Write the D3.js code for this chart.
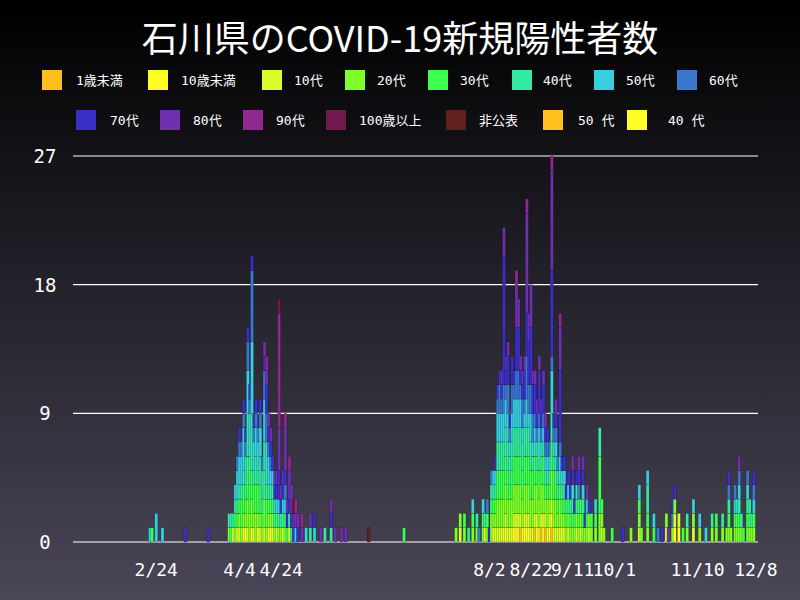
<!DOCTYPE html>
<html><head><meta charset="utf-8">
<script src="https://cdn.jsdelivr.net/npm/d3@7"></script>
<style>body{margin:0;background:#000}</style></head>
<body><svg id="c" width="800" height="600"></svg>
<script>
const categories=["1歳未満","10歳未満","10代","20代","30代","40代","50代","60代","70代","80代","90代","100歳以上","非公表"];
const colors=["#ffbf1f","#ffff26","#d9ff2a","#7fff2a","#3cff50","#33eaa0","#38cfe0","#3a78d0","#3a30c8","#6f30b0","#902890","#701a50","#602020"];
const legendExtra=["50 代","40 代"];
const legendExtraColors=["#ffc020","#ffff26"];
const yTicks=[0,9,18,27];
const xTickLabels=["2/24","4/4","4/24","8/2","8/22","9/11","10/1","11/10","12/8"];
const xTickDates=["2020-02-24","2020-04-04","2020-04-24","2020-08-02","2020-08-22","2020-09-11","2020-10-01","2020-11-10","2020-12-08"];
// daily counts by category (index order of categories)
const daily=[
["02-21",[0,0,0,0,0,0,1]],["02-22",[0,0,0,0,1]],["02-24",[0,0,0,0,0,0,2]],["02-27",[0,0,0,0,0,0,1]],
["03-09",[0,0,0,0,0,0,0,0,1]],["03-20",[0,0,0,0,0,0,0,0,1]],
["03-30",[0,0,0,1,0,1]],["03-31",[0,0,0,0,1,1]],["04-01",[0,0,1,0,0,1]],["04-02",[0,0,0,1,1,1,1]],
["04-03",[0,0,1,0,1,1,2,1]],["04-04",[0,0,1,1,1,1,2,1,1]],["04-05",[0,0,0,1,2,1,2,1]],
["04-06",[0,0,1,1,2,1,3,1,1]],["04-07",[0,1,0,1,1,1,2,1,1]],["04-08",[0,0,1,2,3,3,3,2,1]],
["04-09",[0,0,0,2,2,2,3,1,1]],["04-10",[0,1,0,2,2,4,5,5,1]],["04-11",[0,0,1,1,2,1,2,1,1]],
["04-12",[0,0,0,2,2,2,2,1,1]],["04-13",[0,1,0,1,2,1,2,1]],["04-14",[0,0,1,1,2,2,2,1,1]],
["04-15",[0,0,0,1,1,1,2,1]],["04-16",[0,0,1,2,2,2,3,2,1,1]],["04-17",[0,0,0,1,2,1,3,2,2,1,1]],
["04-18",[0,0,1,1,1,1,2,1,1,1]],["04-19",[0,1,0,1,1,1,1,1,1,1]],["04-20",[0,0,1,1,1,1,1,0,1]],
["04-21",[0,0,0,1,0,1,1,0,1,1]],["04-22",[0,0,1,0,1,0,1,0,1,1]],["04-23",[0,0,0,1,0,1,1,0,2,3,8,1]],
["04-24",[0,0,0,1,0,1,0,0,1,1]],["04-25",[0,0,1,0,1,0,1,0,1,1]],["04-26",[0,0,0,1,0,1,1,1,1,3,1]],
["04-27",[0,0,0,0,1,0,0,0,1,1]],["04-28",[0,0,1,0,0,1,0,0,1,2,1]],["04-29",[0,0,0,0,0,1,0,0,1,2]],
["04-30",[0,0,0,0,0,0,0,0,1,1,0,0,1]],["05-01",[0,0,0,0,0,0,1,0,0,1,1]],["05-02",[0,0,0,0,0,0,0,0,1,1]],
["05-04",[0,0,0,0,0,0,0,0,0,1,1]],["05-06",[0,0,0,0,0,0,1]],["05-08",[0,0,0,0,0,1,0,0,0,1]],
["05-10",[0,0,0,0,0,0,1,0,1]],["05-13",[0,0,0,0,0,0,0,0,0,1]],["05-15",[0,0,0,0,0,1]],
["05-18",[0,0,0,0,0,1,0,0,1,1]],["05-20",[0,0,0,0,0,0,0,0,0,1]],["05-23",[0,0,0,0,0,0,0,0,0,1]],
["05-25",[0,0,0,0,0,0,0,0,0,1]],["06-05",[0,0,0,0,0,0,0,0,0,0,0,0,1]],["06-22",[0,0,0,0,1]],
["07-17",[0,0,0,1]],["07-19",[0,0,1,1]],["07-21",[0,0,0,1,1]],["07-23",[0,0,0,0,0,1]],
["07-25",[0,0,0,1,1,0,1]],["07-27",[0,0,0,1,0,1]],["07-28",[0,0,0,0,0,0,0,1]],
["07-30",[0,0,0,1,1,0,1]],["07-31",[0,0,1,0,0,1]],
["08-01",[0,0,0,1,1,0,0,1]],["08-02",[0,0,0,0,0,0,0,0,1]],["08-03",[0,0,0,2,1,1,0,1]],
["08-04",[0,0,1,1,1,1,1]],["08-05",[0,0,1,1,1,1,1,0,1]],["08-06",[0,0,1,2,2,2,2,1,1]],
["08-07",[0,0,1,2,2,2,2,2,1]],["08-08",[0,0,1,2,2,2,2,1,1,1]],["08-09",[0,0,1,2,2,2,2,2,9,2]],
["08-10",[0,1,1,2,2,2,2,1,1,1]],["08-11",[0,0,1,2,2,2,2,2,2,1]],["08-12",[0,0,1,2,1,2,1,1,1]],
["08-13",[0,0,1,2,2,2,2,2,2]],["08-14",[0,1,1,2,2,2,2,1,1]],["08-15",[0,1,1,2,2,2,2,2,3,3,1]],
["08-16",[0,1,1,2,2,2,2,2,3,2]],["08-17",[1,0,1,2,2,2,2,1,1,1]],["08-18",[0,0,1,2,2,2,1,2,1,1]],
["08-19",[0,1,1,2,2,2,1,1,2,1]],["08-20",[0,1,1,2,2,2,2,3,3,7,1]],["08-21",[0,1,1,2,2,2,1,2,3,2]],
["08-22",[0,0,1,2,2,2,2,2,4,3]],["08-23",[0,0,1,2,2,1,1,2,2,1]],["08-24",[1,0,1,2,2,1,1,1,2,1]],
["08-25",[0,1,1,2,1,1,1,1,1,1]],["08-26",[0,0,1,2,2,2,1,1,3,1]],["08-27",[1,0,1,2,1,1,1,1,1,1]],
["08-28",[0,1,1,2,2,1,1,1,2,1]],["08-29",[1,0,1,1,1,1,1,1,1,1]],["08-30",[0,0,1,2,1,1,1,1,1]],
["08-31",[0,1,1,1,1,1,1,1]],["09-01",[1,1,1,2,2,2,3,1,6,7,1]],["09-02",[0,0,1,2,2,1,1,1,1]],
["09-03",[0,0,1,2,2,1,1,1,1,1]],["09-04",[0,0,1,1,1,1,1,1]],["09-05",[0,0,1,2,1,1,1,1,5,3,1]],
["09-06",[0,0,1,1,1,1,1,0,1]],["09-07",[0,0,1,1,1,1,1,0,1]],["09-08",[0,0,0,1,1,1,0,0,1]],
["09-09",[0,0,1,1,1,0,1,0,1]],["09-10",[0,0,0,1,1,1,0,0,1]],["09-11",[0,0,0,1,1,1,1,0,1,1]],
["09-12",[0,0,0,1,1,0,0,0,1]],["09-13",[0,0,1,1,1,1,0,0,1]],["09-14",[0,0,0,1,1,1,0,1,1,1]],
["09-15",[0,0,1,1,1]],["09-16",[0,0,0,1,1,1,1,0,1,1]],["09-17",[0,0,0,1,0,0,0,0,1]],
["09-18",[0,0,0,1,1,0,1,0,0,1]],["09-19",[0,0,1,1,0,0,0,0,1]],["09-20",[0,0,0,1,1]],
["09-22",[0,0,0,1,1,0,1]],["09-24",[0,0,0,2,4,2]],["09-25",[0,0,1,1,1]],["09-26",[0,0,0,1]],
["09-30",[0,0,0,0,1]],["10-05",[0,0,0,0,0,0,0,0,1]],["10-09",[0,0,0,1]],
["10-13",[0,0,1,1,1,0,1]],["10-14",[0,0,0,1]],["10-17",[0,0,0,1,1,2,1]],["10-20",[0,0,0,0,1,0,1]],
["10-22",[0,0,0,0,0,0,0,1]],["10-24",[0,0,0,0,0,0,0,0,1]],["10-26",[0,0,1,1]],
["10-27",[0,0,0,0,0,0,0,0,0,1]],["10-29",[0,0,0,1,0,0,0,1,1]],["10-30",[0,1,1,1,0,0,0,0,1]],
["11-01",[0,1,1]],["11-03",[0,0,0,0,1]],["11-05",[0,0,0,1,0,1]],["11-08",[0,0,1,1,0,0,1]],
["11-11",[0,0,0,1,0,0,1]],["11-14",[0,0,0,0,0,0,1]],["11-17",[0,0,0,1,0,1]],
["11-19",[0,0,0,1,1]],["11-22",[0,0,0,1,0,1]],["11-24",[0,0,0,1]],
["11-25",[0,0,0,1,1,1,0,1,1]],["11-26",[0,0,0,1]],["11-28",[0,0,0,1,1,0,1,1]],
["11-29",[0,0,0,1,1,0,1]],["11-30",[0,0,0,1,1,1,1,1,0,1]],["12-01",[0,0,0,1,0,1]],
["12-02",[0,0,0,0,1]],["12-04",[0,0,0,1,1,1,1,1]],["12-05",[0,0,0,1,1,1]],
["12-06",[0,0,0,1,0,1]],["12-07",[0,0,0,1,1,0,1,1,1]]
];
const svg=d3.select("#c");
const defs=svg.append("defs");
const g=defs.append("linearGradient").attr("id","bg").attr("x1",0).attr("y1",0).attr("x2",0).attr("y2",1);
g.append("stop").attr("offset","0%").attr("stop-color","#000000");
g.append("stop").attr("offset","100%").attr("stop-color","#4a4658");
svg.append("rect").attr("width",800).attr("height",600).attr("fill","url(#bg)");
const font="'DejaVu Sans Mono','Noto Sans CJK JP',monospace";
svg.append("text").attr("x",400).attr("y",52).attr("text-anchor","middle").attr("fill","#fff")
 .attr("font-size",36).attr("font-family","'Noto Sans CJK JP',sans-serif").text("石川県のCOVID-19新規陽性者数");
const leg=[...categories.map((c,i)=>[c,colors[i]]),...legendExtra.map((c,i)=>[c,legendExtraColors[i]])];
const lpos=[[42,76],[148,181],[262,294],[345,377],[428,460],[512,543],[594,626],[677,709],
 [76,110],[160,193],[243,276],[326,359],[446,479],[543,578],[627,668]];
leg.forEach((d,i)=>{const y=i<8?70:110;
 svg.append("rect").attr("x",lpos[i][0]).attr("y",y).attr("width",20).attr("height",20).attr("fill",d[1]);
 svg.append("text").attr("x",lpos[i][1]).attr("y",y+15).attr("fill","#fff").attr("font-size",13).attr("font-family",font).text(d[0]);});
const parse=d3.timeParse("%Y-%m-%d");
const x=d3.scaleTime().domain([parse("2020-01-15"),parse("2020-12-09")]).range([73,758]);
const y=d3.scaleLinear().domain([0,27]).range([542,156]);
svg.append("g").selectAll("line").data(yTicks).join("line").attr("x1",73).attr("x2",758)
 .attr("y1",d=>y(d)).attr("y2",d=>y(d)).attr("stroke","#fff").attr("stroke-width",1.2);
svg.append("g").selectAll("text").data(yTicks).join("text").attr("x",45).attr("y",d=>y(d)+7)
 .attr("text-anchor","middle").attr("fill","#fff").attr("font-size",19).attr("font-family",font).text(d=>d);
svg.append("g").selectAll("text").data(xTickDates).join("text").attr("x",d=>x(parse(d))).attr("y",576)
 .attr("text-anchor","middle").attr("fill","#fff").attr("font-size",18).attr("font-family",font).text((d,i)=>xTickLabels[i]);
const segs=[];
daily.forEach(([md,arr])=>{let acc=0;const dt=parse("2020-"+md);
 arr.forEach((v,i)=>{if(v>0){segs.push({dt,y0:acc,y1:acc+v,c:colors[i]});acc+=v;}});});
svg.append("g").selectAll("rect").data(segs).join("rect")
 .attr("x",d=>x(d.dt)-1.5).attr("width",3).attr("y",d=>y(d.y1)).attr("height",d=>y(d.y0)-y(d.y1))
 .attr("fill",d=>d.c).attr("stroke","rgba(0,0,0,0.35)").attr("stroke-width",0.5);
</script></body></html>
